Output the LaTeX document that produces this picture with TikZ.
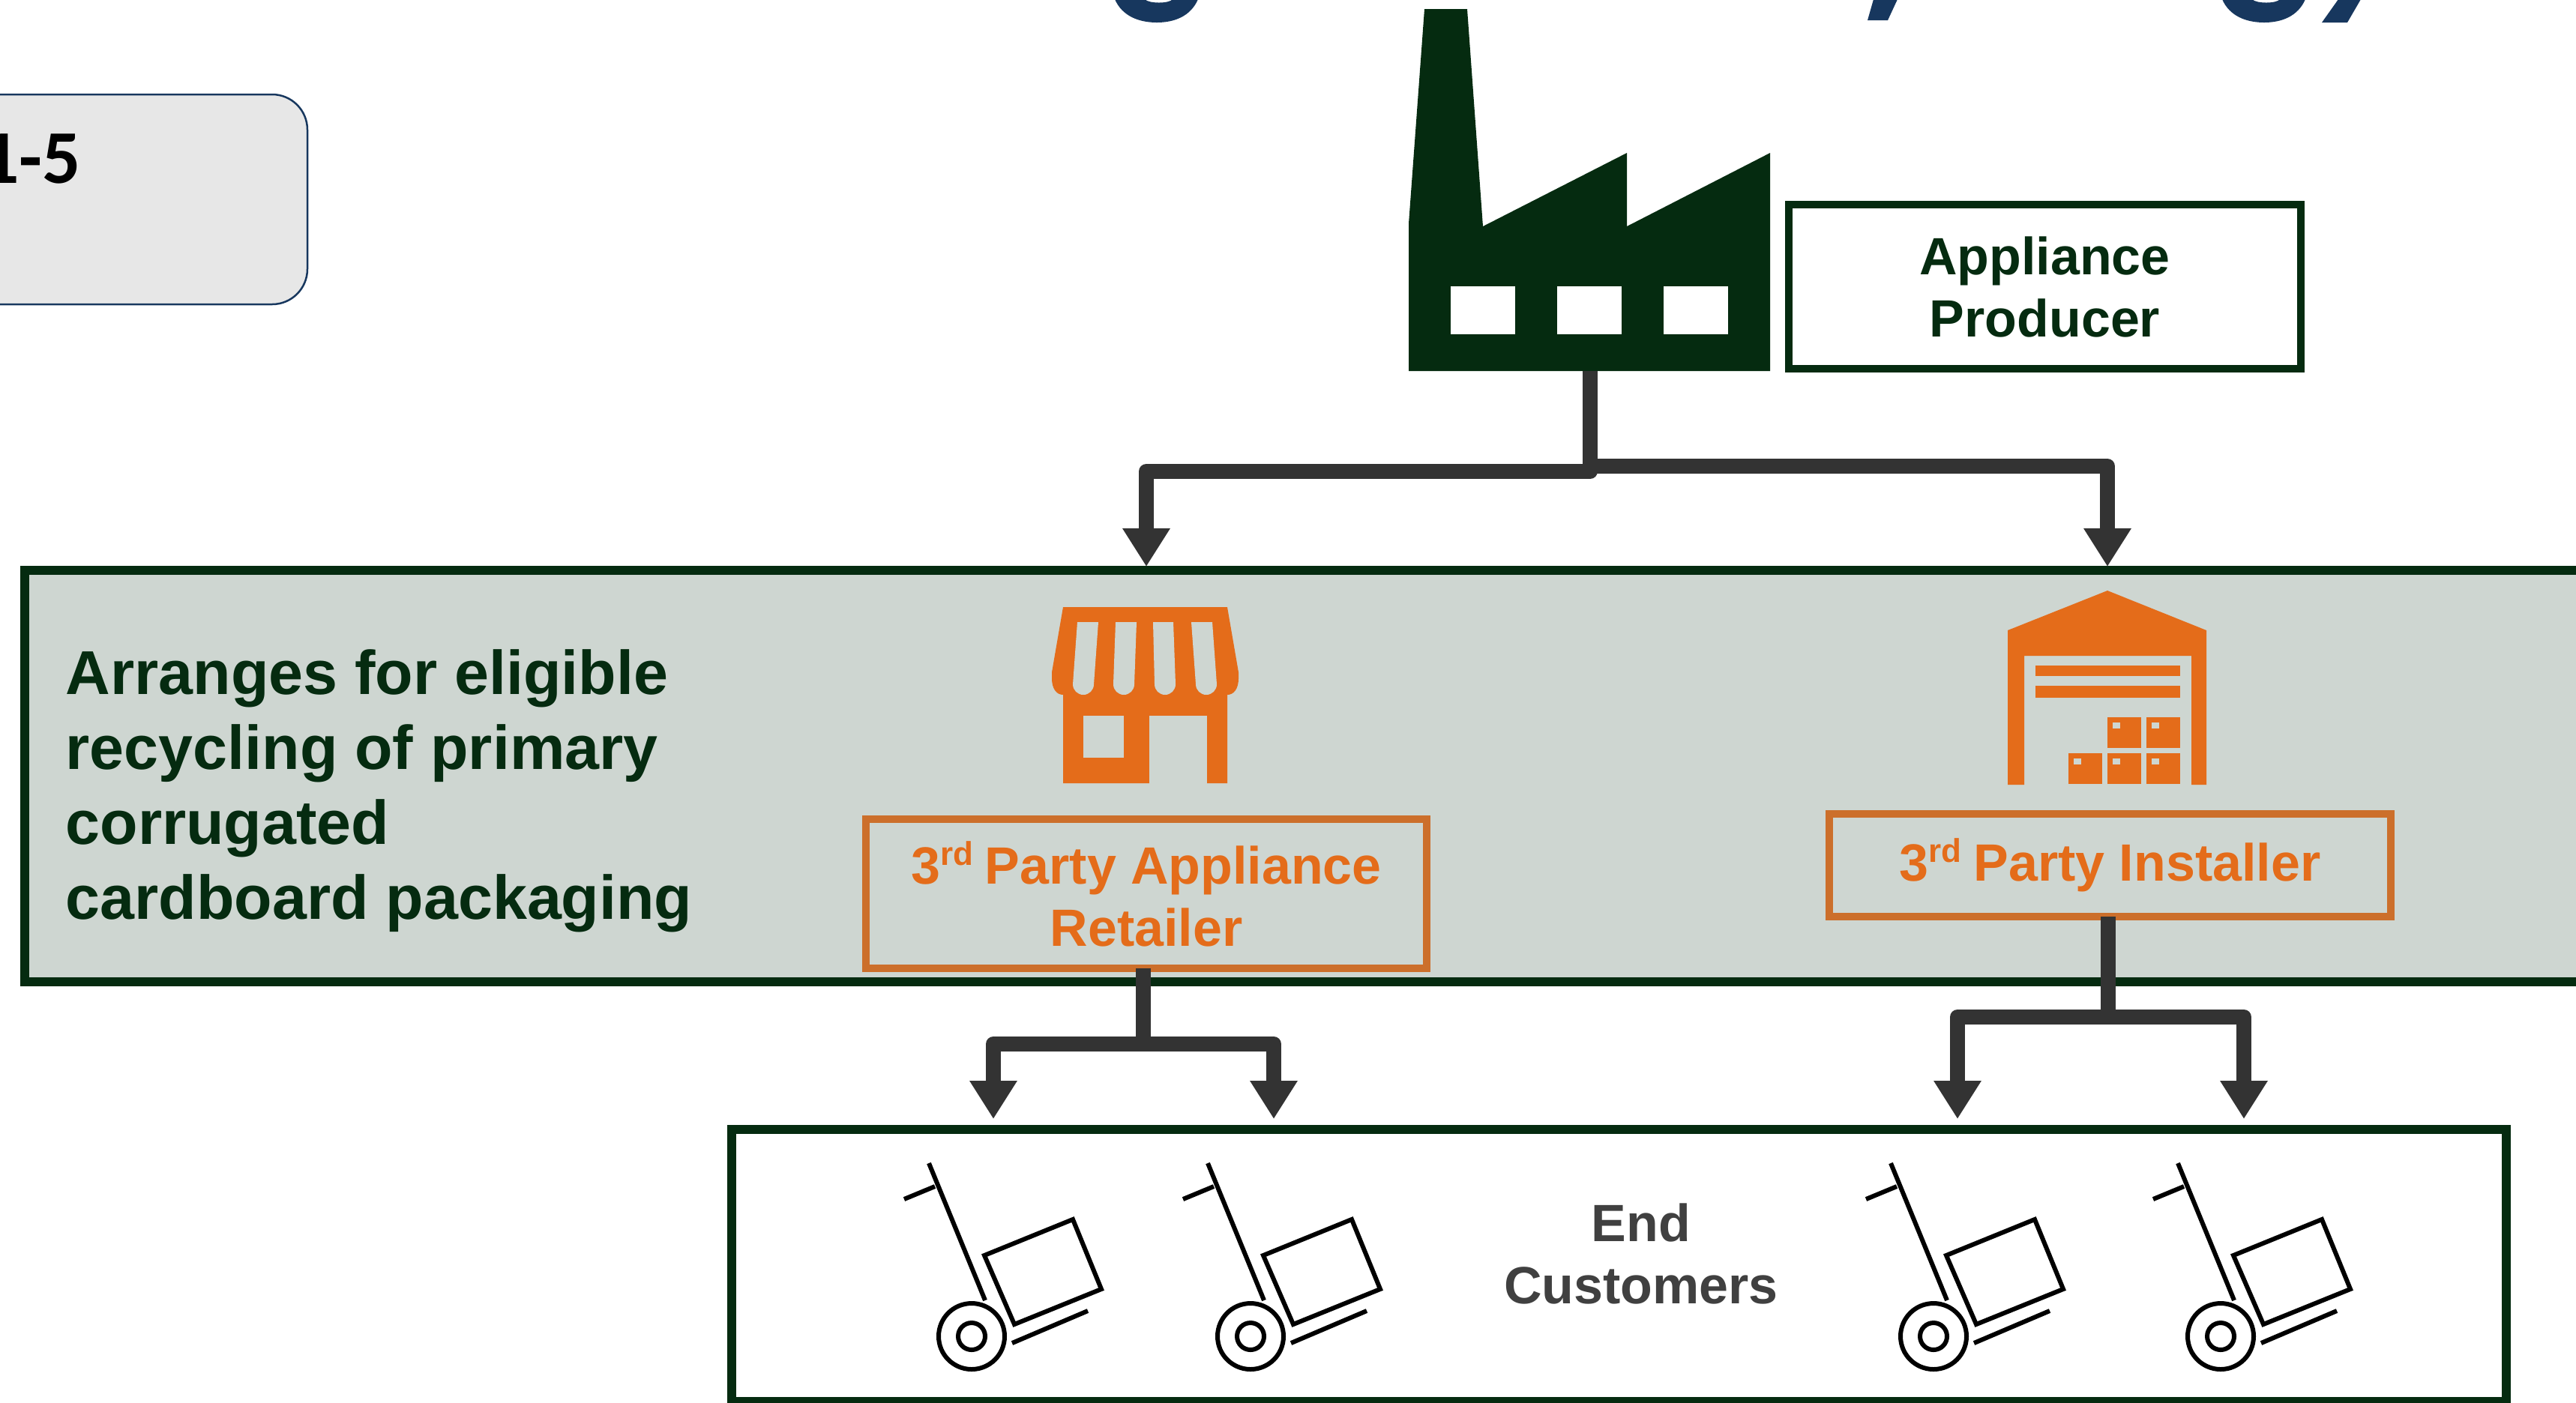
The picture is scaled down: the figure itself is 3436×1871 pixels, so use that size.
\documentclass[tikz,border=0pt]{standalone}
\usepackage{xcolor}
\usepackage{fontspec}
\usepackage{tikz}
\usetikzlibrary{arrows.meta}
\setmainfont{Liberation Sans}
\newfontfamily\cardfont{Carlito}
\definecolor{forest}{HTML}{052B10}
\definecolor{bandfill}{HTML}{CED6D1}
\definecolor{carrot}{HTML}{E46C1A}
\definecolor{rust}{HTML}{CC6F2B}
\definecolor{arrowgray}{HTML}{333333}
\definecolor{navy}{HTML}{17375E}
\definecolor{cardfill}{HTML}{E7E7E7}
\newcommand{\thrd}{3\raisebox{0.36em}{\fontsize{12.5}{12.5}\selectfont rd}\hspace{-0.05em}}
\tikzset{
    labelbox/.style={draw=rust, line width=1mm, outer sep=0pt, inner sep=0pt, align=center,
        text=carrot, font=\fontsize{19.9}{23.6}\selectfont\bfseries},
    flow/.style={draw=arrowgray, line width=2mm, line join=round,
        -{Triangle[width=6mm,length=5.1mm]}},
}
\begin{document}
\begin{tikzpicture}[x=0.01cm, y=-0.01cm]
                \useasboundingbox (0,0) rectangle (3436,1871);
                \clip (0,0) rectangle (3436,1871);
                % Bottoms of the title letters
                \foreach \i in {1487, 2964} {
                    \fill[navy, shift={(\i,0)}] (0,-1) .. controls (10,22) and (33,30) .. (56,30)
                        .. controls (79,30) and (101,22) .. (111,-1) -- (77,-1)
                        .. controls (73,5) and (45,5) .. (40,-1) -- cycle;
                }
                \fill[navy] (2499,-1) -- (2531,-1) -- (2518,27) -- (2491,27) -- cycle;
                \fill[navy] (3119,-1) -- (3149,-1) -- (3131,30) -- (3097,30) -- cycle;
                % Card on the left
                \draw[navy, line width=0.25mm, fill=cardfill, rounded corners=4.7mm] (-100,126) rectangle (410,406);
                \node[anchor=base east, inner sep=0pt, font=\cardfont\fontsize{28.8}{34}\selectfont\bfseries] (cardtext) at (109,244) {1-5};
                % Factory
                \fill[forest] (1900,12) -- (1957,12) -- (1978,302) -- (2170,204) -- (2170,302) -- (2361,204)
                    -- (2361,495) -- (1879,495) -- (1879,298) -- cycle;
                \foreach \i in {1935, 2077, 2219} {
                    \fill[white] (\i,382) rectangle ++(86,64);
                }
                \node[draw=forest, line width=1mm, outer sep=0pt, inner sep=0pt, minimum width=6.83cm, minimum height=2.19cm,
                    align=center, text=forest, font=\fontsize{19.9}{23.6}\selectfont\bfseries] (producer) at (2727.5,382.5) {Appliance\\Producer};
                % Band
                \draw[forest, line width=1.2mm, fill=bandfill] (33,761) rectangle (3480,1310);
                \node[anchor=west, inner sep=0pt, align=left, text=forest, font=\fontsize{23.5}{28.45}\selectfont\bfseries] (bandtext) at (87,1055)
                    {Arranges for eligible\\recycling of primary\\corrugated\\cardboard packaging};
                % Store
                \fill[carrot] (1418,810) -- (1637,810) -- (1652,897) -- (1652,905) .. controls (1652,920) and (1645,927) .. (1637,927)
                    -- (1637,1045) -- (1418,1045) -- (1418,927) .. controls (1410,927) and (1403,920) .. (1403,905) -- (1403,897) -- cycle;
                \foreach \a/\b/\c/\d in {1437/1465/1431/1459, 1488/1516/1486/1513, 1538/1565/1541/1568, 1589/1617/1596/1623} {
                    \fill[bandfill] (\a,830) -- (\b,830) -- (\d,913) arc(0:180:14) -- cycle;
                }
                \fill[bandfill] (1445,955) rectangle (1499,1011);
                \fill[bandfill] (1533,955) rectangle (1610,1046);
                % Warehouse
                \fill[carrot] (2811,788) -- (2943,841) -- (2943,1047) -- (2923,1047) -- (2923,875) -- (2700,875) -- (2700,1047)
                    -- (2678,1047) -- (2678,841) -- cycle;
                \fill[carrot] (2715,888) rectangle (2908,902);
                \fill[carrot] (2715,915) rectangle (2908,931);
                \foreach \i/\j in {2811/957, 2863/957, 2759/1005, 2811/1005, 2863/1005} {
                    \fill[carrot] (\i,\j) rectangle ++(45,41);
                    \fill[bandfill] (\i+7,\j+7) rectangle ++(10,8);
                }
                % Orange boxes
                \node[labelbox, minimum width=7.48cm, minimum height=1.99cm] (retailer) at (1529,1192.5) {\thrd{} Party Appliance\\Retailer};
                \node[labelbox, minimum width=7.49cm, minimum height=1.37cm] (installer) at (2814.5,1154.5) {\thrd{} Party Installer};
                % End customers
                \node[draw=forest, line width=1.2mm, outer sep=0pt, minimum width=23.65cm, minimum height=3.63cm] (customers) at (2159.5,1688.5) {};
                \node[align=center, inner sep=0pt, text=black!75, font=\fontsize{19.9}{23.6}\selectfont\bfseries] (customertext) at (2189,1673) {End\\Customers};
                \foreach \i in {1296, 1668, 2579, 2962} {
                    \begin{scope}[shift={(\i,1783)}, line width=0.6mm, black]
                        \draw (0,0) circle(44);
                        \draw (0,0) circle(18);
                        \draw (-57,-231) -- (18,-48);
                        \draw (-49,-200) -- (-90,-183);
                        \draw (17,-108) -- (135,-156) -- (173,-63) -- (57,-16) -- cycle;
                        \draw (54,9) -- (155,-34);
                    \end{scope}
                }
                % Connectors
                \coordinate (factory) at (2121,495);
                \coordinate (retailertip) at (1529,756);
                \coordinate (installertip) at (2811,756);
                \coordinate (customerA) at (1325,1493);
                \coordinate (customerB) at (1699,1493);
                \coordinate (customerC) at (2611,1493);
                \coordinate (customerD) at (2993,1493);
                \draw[flow] (factory) -- ++(0,134) -| (retailertip);
                \draw[flow] (factory) -- ++(0,127) -| (installertip);
                \draw[flow] ([xshift=-0.4mm]retailer.south) -- ++(0,101) -| (customerA);
                \draw[flow] ([xshift=-0.4mm]retailer.south) -- ++(0,101) -| (customerB);
                \draw[flow] ([xshift=-0.25mm]installer.south) -- ++(0,134) -| (customerC);
                \draw[flow] ([xshift=-0.25mm]installer.south) -- ++(0,134) -| (customerD);
            \end{tikzpicture}
\end{document}
